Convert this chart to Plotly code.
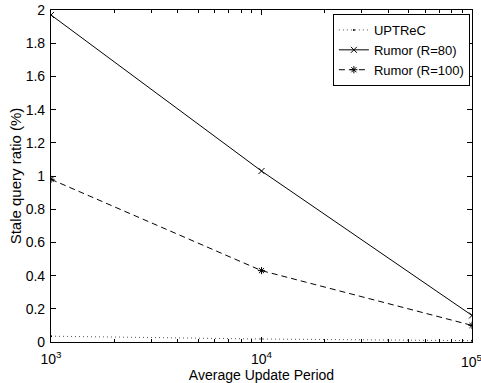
import plotly.graph_objects as go

periods = [1e3, 1e4, 1e5]
uptrec = [0.035, 0.018, 0.008]
rumor80 = [1.97, 1.03, 0.16]
rumor100 = [0.98, 0.43, 0.10]
xtick_vals = [1e3, 1e4, 1e5]
xtick_text = ["10<sup>3</sup>", "10<sup>4</sup>", "10<sup>5</sup>"]
xminor_vals = [2e3, 3e3, 4e3, 5e3, 6e3, 7e3, 8e3, 9e3,
               2e4, 3e4, 4e4, 5e4, 6e4, 7e4, 8e4, 9e4]
ytick_vals = [0, 0.2, 0.4, 0.6, 0.8, 1, 1.2, 1.4, 1.6, 1.8, 2]
ytick_text = ["0", "0.2", "0.4", "0.6", "0.8", "1", "1.2", "1.4", "1.6", "1.8", "2"]

FONT = "Liberation Sans, Arial"

fig = go.Figure()
fig.add_trace(go.Scatter(x=periods, y=uptrec, name="UPTReC", mode="lines+markers",
                         line=dict(color="#555555", width=1, dash="1px,3px"),
                         marker=dict(symbol="circle", size=2, color="black")))
fig.add_trace(go.Scatter(x=periods, y=rumor80, name="Rumor (R=80)", mode="lines+markers",
                         line=dict(color="black", width=1),
                         marker=dict(symbol="x-thin-open", size=6, color="black",
                                     line=dict(color="black", width=1))))
fig.add_trace(go.Scatter(x=periods, y=rumor100, name="Rumor (R=100)", mode="lines+markers",
                         line=dict(color="black", width=1, dash="6px,4px"),
                         marker=dict(symbol="asterisk-open", size=6, color="black",
                                     line=dict(color="black", width=1))))

axis_common = dict(showline=True, linecolor="black", linewidth=1.2, mirror="ticks",
                   ticks="inside", ticklen=5, tickcolor="black", showgrid=False,
                   zeroline=False, automargin=False,
                   tickfont=dict(family=FONT, size=14, color="black"))

fig.update_xaxes(type="log", range=[3, 5], tickvals=xtick_vals, ticktext=xtick_text,
                 ticklabelstandoff=4,
                 title=dict(text="Average Update Period", standoff=0,
                            font=dict(family=FONT, size=14, color="black")),
                 minor=dict(ticks="inside", ticklen=3, tickcolor="black", showgrid=False,
                            tickmode="array", tickvals=xminor_vals),
                 **axis_common)
fig.update_yaxes(range=[0, 2], tickvals=ytick_vals, ticktext=ytick_text,
                 ticklabelstandoff=2,
                 title=dict(text="Stale query ratio (%)", standoff=0,
                            font=dict(family=FONT, size=15, color="black")),
                 **axis_common)

# the last decade label sits at the figure edge (plotly drops it as a tick label)
fig.add_annotation(x=5, xref="x", y=0, yref="paper", yanchor="top", xanchor="center",
                   yshift=-8, text=xtick_text[2], showarrow=False,
                   font=dict(family=FONT, size=14, color="black"))

fig.update_layout(
    width=481, height=383,
    margin=dict(l=51, r=9, t=10, b=41),
    paper_bgcolor="white", plot_bgcolor="white",
    showlegend=True,
    legend=dict(x=0.995, y=0.988, xanchor="right", yanchor="top",
                bordercolor="black", borderwidth=1, bgcolor="white",
                font=dict(family=FONT, size=13, color="black"),
                tracegroupgap=0, itemwidth=30),
    font=dict(family=FONT, color="black"),
)

fig.write_html("out.html", config={"displayModeBar": False},
               post_script="document.body.style.margin='0';document.body.style.overflow='hidden';")
